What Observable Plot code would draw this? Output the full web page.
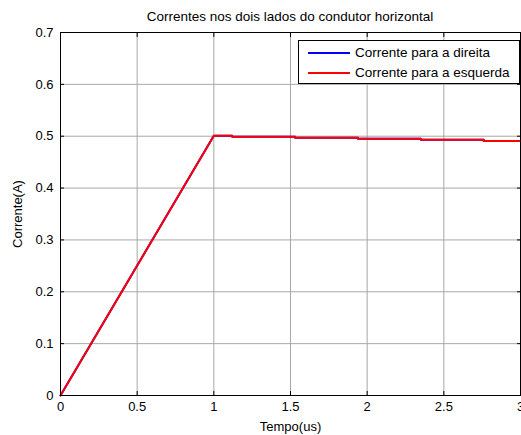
<!DOCTYPE html>
<html><head><meta charset="utf-8">
<script src="https://cdn.jsdelivr.net/npm/d3@7"></script>
<script src="https://cdn.jsdelivr.net/npm/@observablehq/plot@0.6"></script>
<style>
body{margin:0;background:#fff;font-family:"Liberation Sans",Arial,sans-serif;}
#wrap{position:relative;width:521px;height:435px;overflow:hidden;}
#title{position:absolute;left:0;top:0;width:521px;height:24px;}
#title span{position:absolute;left:290px;top:10px;transform:translateX(-50%);white-space:nowrap;font-size:13.5px;line-height:13px;color:#000;}
#chart{position:absolute;left:0;top:24px;}
#legend{position:absolute;left:298px;top:40px;width:220px;height:42px;border:1px solid #000;background:#fff;font-size:13.5px;color:#000;}
.row{position:absolute;left:0;height:16px;}
.row i{position:absolute;left:9px;top:7px;width:42px;height:2px;}
.row b{position:absolute;left:56px;top:0;font-weight:normal;white-space:nowrap;line-height:16px;}
</style></head>
<body>
<div id="wrap">
  <div id="title"><span>Correntes nos dois lados do condutor horizontal</span></div>
  <div id="chart"></div>
  <div id="legend"></div>
</div>
<script>
const seriesNames = ["Corrente para a direita", "Corrente para a esquerda"];
const seriesColors = ["#0000ff", "#ff0000"];
const tempo = [0, 1, 1.12, 1.12, 1.53, 1.53, 1.94, 1.94, 2.35, 2.35, 2.76, 2.76, 3];
const correnteDireita = [0, 0.501, 0.501, 0.499, 0.499, 0.497, 0.497, 0.495, 0.495, 0.493, 0.493, 0.491, 0.491];
const correnteEsquerda = [0, 0.501, 0.501, 0.499, 0.499, 0.497, 0.497, 0.495, 0.495, 0.493, 0.493, 0.491, 0.491];
const xTicks = [0, 0.5, 1, 1.5, 2, 2.5, 3];
const yTicks = [0, 0.1, 0.2, 0.3, 0.4, 0.5, 0.6, 0.7];

const data = [];
[correnteDireita, correnteEsquerda].forEach((arr, s) => {
  arr.forEach((v, i) => data.push({t: tempo[i], i: v, s: seriesNames[s]}));
});

const fmt = d => `${d}`;

const chart = Plot.plot({
  width: 521,
  height: 411,
  marginLeft: 60,
  marginRight: 1,
  marginTop: 8,
  marginBottom: 40,
  style: {fontFamily: "'Liberation Sans', Arial, sans-serif", fontSize: "13px", color: "#000", background: "#fff"},
  x: {domain: [0, 3]},
  y: {domain: [0, 0.7]},
  color: {domain: seriesNames, range: seriesColors},
  marks: [
    Plot.gridX(xTicks, {stroke: "#a8a8a8", strokeOpacity: 1}),
    Plot.gridY(yTicks, {stroke: "#a8a8a8", strokeOpacity: 1}),
    Plot.line(data, {x: "t", y: "i", stroke: "s", z: "s", strokeWidth: 2}),
    Plot.frame({stroke: "#000", strokeWidth: 1}),
    Plot.axisX(xTicks, {anchor: "bottom", tickSize: -4, tickPadding: 10, tickFormat: fmt, label: "Tempo(us)", labelAnchor: "center", labelOffset: 35, labelArrow: "none"}),
    Plot.axisX(xTicks, {anchor: "top", tickSize: -4, tickFormat: () => "", label: null}),
    Plot.axisY(yTicks, {anchor: "left", tickSize: -4, tickPadding: 11, tickFormat: fmt, label: "Corrente(A)", labelAnchor: "center", labelOffset: 48, labelArrow: "none"}),
    Plot.axisY(yTicks, {anchor: "right", tickSize: -4, tickFormat: () => "", label: null})
  ]
});
document.getElementById("chart").appendChild(chart);

const legend = document.getElementById("legend");
seriesNames.forEach((name, k) => {
  const row = document.createElement("div");
  row.className = "row";
  row.style.top = (4 + k * 20) + "px";
  row.innerHTML = `<i style="background:${seriesColors[k]}"></i><b>${name}</b>`;
  legend.appendChild(row);
});
</script>
</body></html>
